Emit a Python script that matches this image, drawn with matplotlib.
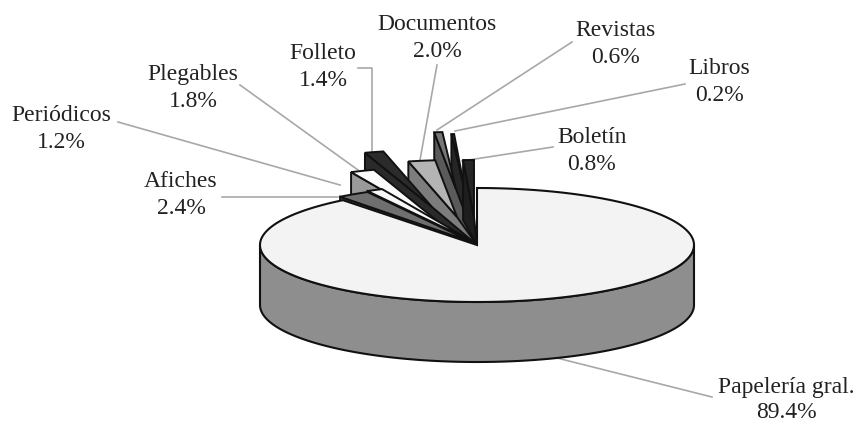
import matplotlib
matplotlib.use('Agg')
import matplotlib.pyplot as plt
import numpy as np

# slices going counter-clockwise from the top of the pie
labels = ['Boletín', 'Libros', 'Revistas', 'Documentos', 'Folleto', 'Plegables', 'Periódicos', 'Afiches']
pct = [0.8, 0.2, 0.6, 2.0, 1.4, 1.8, 1.2, 2.4]
main_label = 'Papelería gral.'
main_pct = 89.4

# how far each small slice is pulled out of the pie (pixels)
shift_x = [-3, -12, -21, -20, -45, -36, -5, -5]
shift_y = [-28, -54, -56, -28, -38, -21, -4, -3]
top_col = ['#262626', '#2e2e2e', '#777777', '#b4b4b4', '#2b2b2b', '#fbfbfb', '#f8f8f8', '#6f6f6f']
wall_col = ['#1e1e1e', '#262626', '#5a5a5a', '#7d7d7d', '#2a2a2a', '#9a9a9a', '#3a3a3a', '#5c5c5c']

cx, cy, rx, ry, depth = 477, 245, 217, 57, 60


def rim(t):
    t = np.radians(t)
    return cx + rx * np.sin(t), cy - ry * np.cos(t)


fig = plt.figure(figsize=(8.58, 4.26), dpi=100)
ax = fig.add_axes([0, 0, 1, 1])
ax.set_xlim(0, 858)
ax.set_ylim(426, 0)
ax.axis('off')

# small slices, back ones first, Boletin last
start = np.cumsum([0] + pct[:-1]) * 3.6
end = np.cumsum(pct) * 3.6
for n, i in enumerate([1, 2, 3, 4, 5, 6, 7, 0]):
    t = np.linspace(start[i], end[i], 12)
    x, y = rim(-t)
    x = x + shift_x[i]
    y = y + shift_y[i]
    ax_, ay_ = cx + shift_x[i], cy + shift_y[i]
    wx = [x[-1], ax_, cx, x[-1]]
    wy = [y[-1], ay_, cy, y[-1] + depth]
    ax.fill(wx, wy, facecolor=wall_col[i], edgecolor='#111111', lw=1.4, zorder=2 + 0.1 * n)
    ax.fill(np.r_[ax_, x], np.r_[ay_, y], facecolor=top_col[i], edgecolor='#111111', lw=1.4, zorder=2.05 + 0.1 * n)

# big slice: side first, then top
t_main = np.linspace(0, main_pct * 3.6, 300)
xm, ym = rim(t_main)
front = np.linspace(90, 270, 200)
xf, yf = rim(front)
ax.fill(np.r_[xf, xf[::-1]], np.r_[yf, yf[::-1] + depth], facecolor='#8e8e8e', edgecolor='#111111', lw=1.5, zorder=3)
ax.fill(np.r_[cx, xm], np.r_[cy, ym], facecolor='#f3f3f3', edgecolor='#111111', lw=1.5, zorder=4)

# leader lines
leaders = [([462, 553], [161, 147]), ([455, 685], [131, 84]), ([437, 572], [130, 42]),
           ([420, 437], [160, 65]), ([372, 372, 358], [152, 68, 68]), ([358, 240], [170, 85]),
           ([340, 118], [185, 122]), ([338, 222], [197, 197]), ([553, 712], [357, 397])]
for lx, ly in leaders:
    ax.plot(lx, ly, color='#a8a8a8', lw=1.2, zorder=1)

# labels
text_x = [592, 719, 615, 437, 323, 193, 61, 181]
text_y = [151, 82, 44, 38, 67, 88, 129, 195]
for i in range(len(labels)):
    ax.text(text_x[i], text_y[i], '%s\n%.1f%%' % (labels[i], pct[i]), ha='center', va='center',
            family='Liberation Serif', fontsize=17, color='#222222', linespacing=1.42)
ax.text(786, 400, '%s\n%.1f%%' % (main_label, main_pct), ha='center', va='center',
        family='Liberation Serif', fontsize=17, color='#222222', linespacing=1.3)

plt.savefig('out.png', dpi=100)
